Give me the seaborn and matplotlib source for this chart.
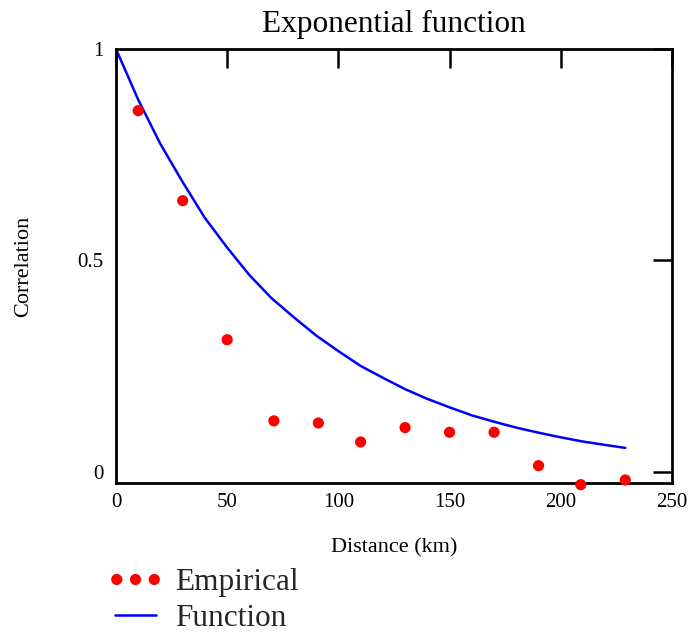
import numpy as np
import pandas as pd
import matplotlib
matplotlib.use('Agg')
import matplotlib.pyplot as plt
import seaborn as sns
from matplotlib.legend_handler import HandlerPathCollection
from matplotlib.collections import PathCollection

# empirical correlation by distance class
emp_distance = [10, 30, 50, 71, 91, 110, 130, 150, 170, 190, 209, 229]
emp_corr = [0.854, 0.641, 0.312, 0.120, 0.115, 0.070, 0.104, 0.093, 0.093, 0.014, -0.031, -0.020]

# fitted exponential curve
fit_distance = [0, 10, 20, 30, 40, 50, 60, 70, 80, 90, 100, 110, 120,
                130, 140, 150, 160, 170, 180, 190, 200, 210, 220, 229]
fit_corr = [1.0, 0.88, 0.775, 0.685, 0.60, 0.53, 0.465, 0.41, 0.365, 0.322, 0.285, 0.25, 0.222,
            0.195, 0.172, 0.152, 0.133, 0.118, 0.104, 0.092, 0.081, 0.071, 0.063, 0.056]

x_ticks = [0, 50, 100, 150, 200, 250]
y_ticks = [0, 0.5, 1]
y_ticklabels = ['0', '0.5', '1']

sns.set_theme(style='white')
plt.rcParams['font.family'] = ['Liberation Serif', 'DejaVu Serif']

emp = pd.DataFrame({'Distance': emp_distance, 'Correlation': emp_corr})
fit = pd.DataFrame({'Distance': fit_distance, 'Correlation': fit_corr})

fig = plt.figure(figsize=(6.94, 6.33), dpi=100)
ax = fig.add_axes([0.1671, 0.2370, 0.8012, 0.6856])

sns.lineplot(data=fit, x='Distance', y='Correlation', color='#0000ff', linewidth=1.8,
             label='Function', ax=ax, zorder=2)
sns.scatterplot(data=emp, x='Distance', y='Correlation', color='#ff0000', s=65,
                edgecolor='none', label='Empirical', ax=ax, zorder=3, clip_on=False)

ax.set_xlim(0, 250)
ax.set_ylim(-0.027, 1.0)
ax.set_xticks(x_ticks)
ax.set_yticks(y_ticks)
ax.set_yticklabels(y_ticklabels)

for sp in ax.spines.values():
    sp.set_color('black')
    sp.set_linewidth(2.0)

ax.tick_params(direction='in', length=14, width=1.8, color='black',
               top=True, right=True, labelsize=15, labelcolor='black')
ax.tick_params(axis='x', pad=7)
ax.tick_params(axis='y', pad=9)

ax.set_xlabel('Distance (km)', fontsize=16, labelpad=19, color='black')
ax.set_ylabel('Correlation', fontsize=16, labelpad=32, color='black')
# fixed y so matplotlib does not shift the title around
ax.set_title('Exponential function', fontsize=22.5, y=1.0, pad=12, color='black')

handles, labels = ax.get_legend_handles_labels()
ax.get_legend().remove()
order = [labels.index('Empirical'), labels.index('Function')]
fig.legend([handles[i] for i in order], [labels[i] for i in order],
           loc='upper left', bbox_to_anchor=(0.166, 0.102), frameon=False,
           fontsize=22.5, scatterpoints=3, scatteryoffsets=[0.5],
           handlelength=1.3, handletextpad=0.62,
           labelspacing=0.22, borderpad=0, borderaxespad=0,
           handler_map={PathCollection: HandlerPathCollection(marker_pad=0.05)})

fig.savefig('out.png', dpi=100)
